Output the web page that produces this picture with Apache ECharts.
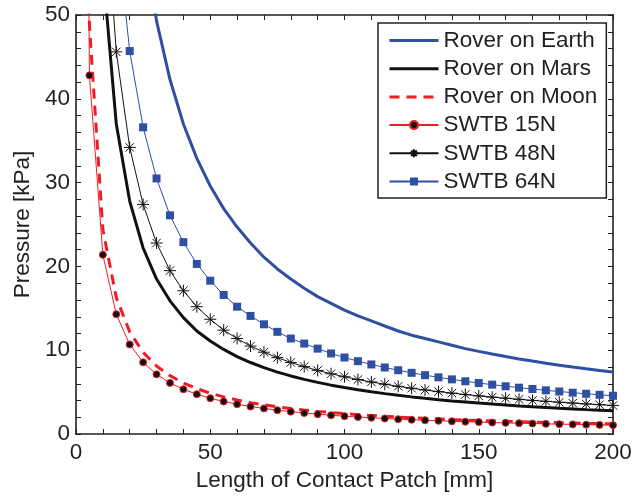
<!DOCTYPE html>
<html>
<head>
<meta charset="utf-8">
<script src="https://cdn.jsdelivr.net/npm/echarts@6/dist/echarts.min.js"></script>
<style>
  html, body { margin: 0; padding: 0; background: #fff; }
  #chart { width: 635px; height: 497px; }
</style>
</head>
<body>
<div id="chart"></div>
<script>
// contact patch length [mm]
const lengths = [1, 5, 10, 15, 20, 25, 30, 35, 40, 45, 50, 55, 60, 65, 70, 75, 80, 85, 90, 95, 100,
  105, 110, 115, 120, 125, 130, 135, 140, 145, 150, 155, 160, 165, 170, 175, 180, 185, 190, 195, 200]

// pressure [kPa]
const roverEarth = [1480, 296, 148, 98.7, 74, 59.2, 49.3, 42.3, 37, 32.9, 29.6, 26.9, 24.7, 22.8, 21.1, 19.7, 18.5, 17.4, 16.4, 15.6, 14.8,
  14.1, 13.5, 12.9, 12.3, 11.8, 11.4, 11.0, 10.6, 10.2, 9.87, 9.55, 9.25, 8.97, 8.71, 8.46, 8.22, 8.0, 7.79, 7.59, 7.4]
const roverMars = [555, 111, 55.5, 37, 27.8, 22.2, 18.5, 15.9, 13.9, 12.3, 11.1, 10.1, 9.25, 8.54, 7.93, 7.4, 6.94, 6.53, 6.17, 5.84, 5.55,
  5.29, 5.05, 4.83, 4.63, 4.44, 4.27, 4.11, 3.96, 3.83, 3.7, 3.58, 3.47, 3.36, 3.26, 3.17, 3.08, 3.0, 2.92, 2.85, 2.78]
const roverMoon = [244, 48.8, 24.4, 16.3, 12.2, 9.76, 8.13, 6.97, 6.1, 5.42, 4.88, 4.44, 4.07, 3.75, 3.49, 3.25, 3.05, 2.87, 2.71, 2.57, 2.44,
  2.32, 2.22, 2.12, 2.03, 1.95, 1.88, 1.81, 1.74, 1.68, 1.63, 1.57, 1.53, 1.48, 1.44, 1.39, 1.36, 1.32, 1.28, 1.25, 1.22]
const swtb15 = [214, 42.8, 21.4, 14.3, 10.7, 8.56, 7.13, 6.11, 5.35, 4.76, 4.28, 3.89, 3.57, 3.29, 3.06, 2.85, 2.68, 2.52, 2.38, 2.25, 2.14,
  2.04, 1.95, 1.86, 1.78, 1.71, 1.65, 1.59, 1.53, 1.48, 1.43, 1.38, 1.34, 1.3, 1.26, 1.22, 1.19, 1.16, 1.13, 1.1, 1.07]
const swtb48 = [684, 137, 68.4, 45.6, 34.2, 27.4, 22.8, 19.5, 17.1, 15.2, 13.7, 12.4, 11.4, 10.5, 9.77, 9.12, 8.55, 8.05, 7.6, 7.2, 6.84,
  6.51, 6.22, 5.95, 5.7, 5.47, 5.26, 5.07, 4.89, 4.72, 4.56, 4.41, 4.28, 4.15, 4.02, 3.91, 3.8, 3.7, 3.6, 3.51, 3.42]
const swtb64 = [914, 183, 91.4, 60.9, 45.7, 36.6, 30.5, 26.1, 22.9, 20.3, 18.3, 16.6, 15.2, 14.1, 13.1, 12.2, 11.4, 10.8, 10.2, 9.62, 9.14,
  8.7, 8.31, 7.95, 7.62, 7.31, 7.03, 6.77, 6.53, 6.3, 6.09, 5.9, 5.71, 5.54, 5.38, 5.22, 5.08, 4.94, 4.81, 4.69, 4.57]

const xTicks = [0, 50, 100, 150, 200]
const yTicks = [0, 10, 20, 30, 40, 50]

const FONT = '"Liberation Sans", Arial, sans-serif'
const INK = '#231F20'
const BLUE = '#2F4FA2'
const RED = '#EE1D25'

const pairs = ys => lengths.map((x, i) => [x, ys[i]])

// asterisk marker (MATLAB '*')
const star = 'path://M0,-10L0,10M-10,0L10,0M-7,-7L7,7M-7,7L7,-7'

const chart = echarts.init(document.getElementById('chart'))

const xBase = {
  type: 'value',
  min: xTicks[0],
  max: xTicks[xTicks.length - 1],
  interval: xTicks[1] - xTicks[0],
  axisLine: { show: true, onZero: false, lineStyle: { color: INK, width: 1.6 } },
  axisTick: { show: true, inside: true, length: 5, lineStyle: { color: INK, width: 1 } },
  minorTick: { show: true, splitNumber: 5, length: 5, lineStyle: { color: INK, width: 1 } },
  splitLine: { show: false }
}
const yBase = {
  type: 'value',
  min: yTicks[0],
  max: yTicks[yTicks.length - 1],
  interval: yTicks[1] - yTicks[0],
  axisLine: { show: true, onZero: false, lineStyle: { color: INK, width: 1.6 } },
  axisTick: { show: true, inside: true, length: 5, lineStyle: { color: INK, width: 1 } },
  minorTick: { show: true, splitNumber: 5, length: 5, lineStyle: { color: INK, width: 1 } },
  splitLine: { show: false }
}

// plain line entries in the legend: hide the marker, keep the thick line
const noMarker = { opacity: 0 }
const thick = { width: 3 }

const optionData = {
  animation: false,
  backgroundColor: '#fff',
  textStyle: { fontFamily: FONT, color: INK },
  grid: { left: 76, right: 22, top: 15, bottom: 59, containLabel: false },
  legend: {
    orient: 'vertical',
    left: 378,
    top: 23,
    padding: [6, 9, 5, 10],
    itemGap: 5.2,
    itemWidth: 49,
    itemHeight: 10,
    borderColor: INK,
    borderWidth: 1.5,
    backgroundColor: '#fff',
    textStyle: { fontFamily: FONT, fontSize: 22.5, color: INK, lineHeight: 22 },
    data: [
      { name: 'Rover on Earth', itemStyle: noMarker, lineStyle: thick },
      { name: 'Rover on Mars', itemStyle: noMarker, lineStyle: thick },
      { name: 'Rover on Moon', itemStyle: noMarker, lineStyle: { width: 3, type: [10, 7] } },
      'SWTB 15N',
      'SWTB 48N',
      'SWTB 64N'
    ]
  },
  xAxis: [
    Object.assign({}, xBase, {
      position: 'bottom',
      name: 'Length of Contact Patch [mm]',
      nameLocation: 'middle',
      nameGap: 34,
      nameTextStyle: { fontFamily: FONT, fontSize: 22.5, color: INK },
      axisLabel: { margin: 7, fontFamily: FONT, fontSize: 22.5, color: INK }
    }),
    Object.assign({}, xBase, { position: 'top', axisLabel: { show: false } })
  ],
  yAxis: [
    Object.assign({}, yBase, {
      position: 'left',
      name: 'Pressure [kPa]',
      nameLocation: 'middle',
      nameGap: 34,
      nameTextStyle: { fontFamily: FONT, fontSize: 22.5, color: INK },
      axisLabel: { margin: 6, fontFamily: FONT, fontSize: 22.5, color: INK }
    }),
    Object.assign({}, yBase, { position: 'right', axisLabel: { show: false } })
  ],
  series: [
    {
      name: 'Rover on Earth',
      type: 'line',
      data: pairs(roverEarth),
      symbol: 'none',
      lineStyle: { color: BLUE, width: 3 },
      itemStyle: { color: BLUE }
    },
    {
      name: 'Rover on Mars',
      type: 'line',
      data: pairs(roverMars),
      symbol: 'none',
      lineStyle: { color: '#111', width: 3 },
      itemStyle: { color: '#111' }
    },
    {
      name: 'Rover on Moon',
      type: 'line',
      data: pairs(roverMoon),
      symbol: 'none',
      lineStyle: { color: RED, width: 3, type: [10, 7] },
      itemStyle: { color: RED }
    },
    {
      name: 'SWTB 15N',
      type: 'line',
      data: pairs(swtb15),
      symbol: 'circle',
      symbolSize: 7,
      showAllSymbol: true,
      lineStyle: { color: RED, width: 1 },
      itemStyle: { color: '#111', borderColor: RED, borderWidth: 1 }
    },
    {
      name: 'SWTB 48N',
      type: 'line',
      data: pairs(swtb48),
      symbol: star,
      symbolSize: 12,
      showAllSymbol: true,
      lineStyle: { color: '#111', width: 1 },
      itemStyle: { color: 'none', borderColor: '#111', borderWidth: 1 }
    },
    {
      name: 'SWTB 64N',
      type: 'line',
      data: pairs(swtb64),
      symbol: 'rect',
      symbolSize: 8,
      showAllSymbol: true,
      lineStyle: { color: BLUE, width: 1 },
      itemStyle: { color: BLUE }
    }
  ]
}

chart.setOption(optionData)
</script>
</body>
</html>
